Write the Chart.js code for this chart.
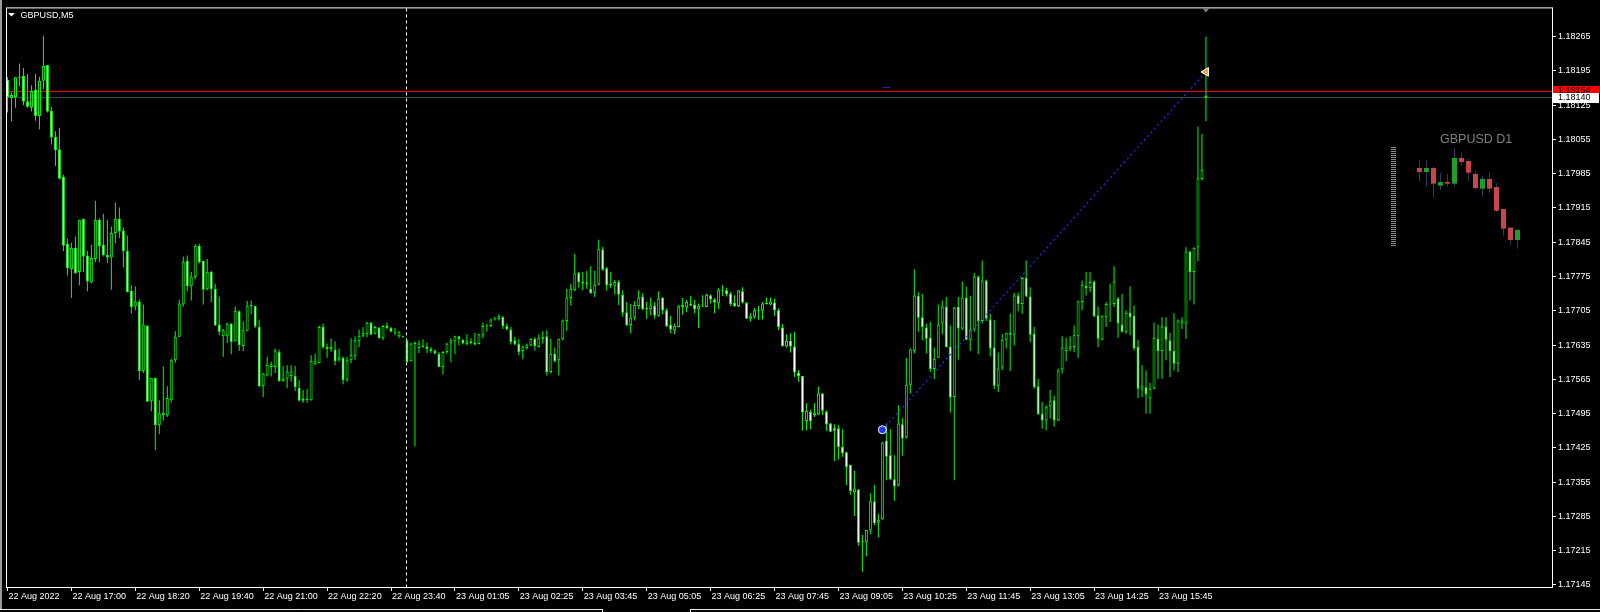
<!DOCTYPE html>
<html><head><meta charset="utf-8">
<script src="https://cdn.jsdelivr.net/npm/chart.js"></script>
<style>
html,body{margin:0;padding:0;background:#000;overflow:hidden;}
#wrap{position:relative;width:1600px;height:612px;}
#main{position:absolute;left:0;top:0;}
#d1{position:absolute;left:1385px;top:110px;}
</style></head><body>
<div id="wrap"><canvas id="main" width="1600" height="612"></canvas><canvas id="d1" width="140" height="150"></canvas></div>
<script>
// ---- GBPUSD M5 bars (index 0 = 22 Aug 15:40) ----
const open = [
1.18177,1.18139,1.18141,1.18181,1.18185,1.18133,1.18120,1.18156,1.18103,1.18175,
1.18207,1.18113,1.18060,1.18035,1.17979,1.17842,1.17790,1.17834,1.17784,1.17893,
1.17818,1.17763,1.17811,1.17891,1.17840,1.17819,1.17814,1.17864,1.17893,1.17869,
1.17827,1.17746,1.17714,1.17724,1.17582,1.17675,1.17520,1.17568,1.17471,1.17491,
1.17491,1.17522,1.17604,1.17652,1.17718,1.17807,1.17755,1.17774,1.17838,1.17807,
1.17749,1.17785,1.17750,1.17677,1.17653,1.17653,1.17679,1.17643,1.17704,1.17633,
1.17664,1.17716,1.17715,1.17672,1.17551,1.17573,1.17590,1.17590,1.17621,1.17561,
1.17566,1.17572,1.17572,1.17548,1.17526,1.17524,1.17522,1.17596,1.17598,1.17672,
1.17631,1.17626,1.17626,1.17604,1.17609,1.17563,1.17604,1.17613,1.17643,1.17653,
1.17658,1.17681,1.17658,1.17670,1.17649,1.17675,1.17670,1.17660,1.17653,1.17652,
1.17645,1.17602,1.17638,1.17629,1.17632,1.17632,1.17627,1.17624,1.17617,1.17590,
1.17621,1.17638,1.17643,1.17653,1.17646,1.17637,1.17639,1.17640,1.17637,1.17655,
1.17674,1.17674,1.17687,1.17688,1.17693,1.17674,1.17667,1.17645,1.17637,1.17623,
1.17629,1.17634,1.17648,1.17631,1.17647,1.17653,1.17580,1.17617,1.17604,1.17647,
1.17684,1.17731,1.17747,1.17783,1.17765,1.17763,1.17750,1.17741,1.17758,1.17830,
1.17792,1.17756,1.17756,1.17764,1.17738,1.17702,1.17676,1.17691,1.17715,1.17734,
1.17711,1.17708,1.17716,1.17695,1.17732,1.17706,1.17676,1.17665,1.17672,1.17712,
1.17712,1.17720,1.17718,1.17708,1.17715,1.17713,1.17736,1.17728,1.17720,1.17747,
1.17747,1.17740,1.17721,1.17715,1.17745,1.17721,1.17689,1.17693,1.17705,1.17705,
1.17720,1.17718,1.17722,1.17706,1.17671,1.17632,1.17644,1.17632,1.17579,1.17572,
1.17480,1.17499,1.17492,1.17493,1.17536,1.17499,1.17475,1.17465,1.17465,1.17427,
1.17416,1.17390,1.17335,1.17340,1.17233,1.17233,1.17256,1.17316,1.17272,1.17279,
1.17440,1.17410,1.17361,1.17348,1.17473,1.17446,1.17554,1.17623,1.17735,1.17692,
1.17671,1.17650,1.17586,1.17609,1.17679,1.17714,1.17632,1.17529,1.17713,1.17669,
1.17732,1.17646,1.17667,1.17775,1.17684,1.17767,1.17687,1.17630,1.17552,1.17589,
1.17646,1.17656,1.17656,1.17736,1.17719,1.17772,1.17734,1.17658,1.17551,1.17495,
1.17481,1.17511,1.17522,1.17481,1.17585,1.17623,1.17626,1.17631,1.17653,1.17723,
1.17756,1.17751,1.17765,1.17696,1.17646,1.17692,1.17719,1.17719,1.17730,1.17677,
1.17662,1.17701,1.17695,1.17631,1.17544,1.17549,1.17526,1.17546,1.17648,1.17623,
1.17673,1.17645,1.17623,1.17597,1.17679,1.17679,1.17826,1.17784,1.17835,1.17974,
1.18145];
const high = [
1.18182,1.18151,1.18182,1.18210,1.18201,1.18188,1.18166,1.18189,1.18183,1.18267,
1.18207,1.18122,1.18072,1.18079,1.17983,1.17852,1.17844,1.17857,1.17891,1.17893,
1.17827,1.17840,1.17930,1.17894,1.17903,1.17891,1.17877,1.17926,1.17916,1.17875,
1.17859,1.17757,1.17755,1.17728,1.17718,1.17675,1.17568,1.17568,1.17522,1.17591,
1.17551,1.17607,1.17663,1.17728,1.17816,1.17818,1.17784,1.17841,1.17842,1.17807,
1.17811,1.17787,1.17760,1.17734,1.17668,1.17681,1.17679,1.17714,1.17706,1.17683,
1.17725,1.17726,1.17715,1.17687,1.17578,1.17611,1.17601,1.17628,1.17626,1.17592,
1.17594,1.17594,1.17592,1.17563,1.17543,1.17545,1.17614,1.17617,1.17675,1.17679,
1.17638,1.17649,1.17643,1.17628,1.17611,1.17611,1.17649,1.17653,1.17667,1.17672,
1.17682,1.17682,1.17675,1.17672,1.17676,1.17681,1.17672,1.17670,1.17664,1.17654,
1.17646,1.17639,1.17643,1.17645,1.17647,1.17640,1.17631,1.17626,1.17621,1.17623,
1.17639,1.17649,1.17654,1.17654,1.17647,1.17657,1.17649,1.17660,1.17658,1.17681,
1.17678,1.17689,1.17693,1.17698,1.17694,1.17679,1.17672,1.17652,1.17647,1.17634,
1.17638,1.17649,1.17651,1.17657,1.17663,1.17665,1.17648,1.17630,1.17648,1.17687,
1.17750,1.17760,1.17821,1.17785,1.17784,1.17787,1.17796,1.17787,1.17850,1.17836,
1.17795,1.17785,1.17768,1.17768,1.17747,1.17723,1.17719,1.17725,1.17747,1.17741,
1.17723,1.17732,1.17723,1.17745,1.17732,1.17710,1.17695,1.17679,1.17717,1.17731,
1.17727,1.17735,1.17727,1.17720,1.17737,1.17740,1.17739,1.17731,1.17751,1.17757,
1.17752,1.17744,1.17737,1.17747,1.17753,1.17723,1.17700,1.17711,1.17715,1.17723,
1.17732,1.17732,1.17730,1.17710,1.17678,1.17657,1.17659,1.17662,1.17584,1.17572,
1.17516,1.17503,1.17516,1.17550,1.17537,1.17502,1.17476,1.17473,1.17471,1.17463,
1.17417,1.17391,1.17378,1.17341,1.17247,1.17257,1.17332,1.17349,1.17290,1.17437,
1.17475,1.17463,1.17410,1.17512,1.17486,1.17609,1.17628,1.17790,1.17743,1.17740,
1.17679,1.17682,1.17630,1.17718,1.17726,1.17733,1.17675,1.17713,1.17733,1.17765,
1.17754,1.17735,1.17782,1.17777,1.17808,1.17769,1.17699,1.17686,1.17620,1.17657,
1.17660,1.17699,1.17742,1.17742,1.17774,1.17808,1.17753,1.17672,1.17566,1.17519,
1.17512,1.17543,1.17532,1.17587,1.17653,1.17650,1.17653,1.17675,1.17726,1.17767,
1.17784,1.17784,1.17767,1.17714,1.17696,1.17723,1.17760,1.17796,1.17733,1.17740,
1.17706,1.17755,1.17716,1.17646,1.17594,1.17583,1.17558,1.17681,1.17677,1.17692,
1.17692,1.17660,1.17700,1.17687,1.17692,1.17835,1.17827,1.17835,1.18081,1.18066,
1.18265];
const low = [
1.18110,1.18092,1.18120,1.18163,1.18125,1.18120,1.18112,1.18093,1.18076,1.18158,
1.18110,1.18045,1.18001,1.17973,1.17827,1.17777,1.17731,1.17780,1.17757,1.17784,
1.17745,1.17761,1.17804,1.17804,1.17816,1.17802,1.17748,1.17843,1.17853,1.17794,
1.17743,1.17700,1.17706,1.17563,1.17578,1.17519,1.17500,1.17420,1.17453,1.17481,
1.17488,1.17517,1.17599,1.17651,1.17714,1.17745,1.17726,1.17769,1.17801,1.17718,
1.17747,1.17723,1.17674,1.17655,1.17611,1.17639,1.17616,1.17643,1.17623,1.17623,
1.17663,1.17698,1.17670,1.17549,1.17529,1.17571,1.17571,1.17578,1.17560,1.17560,
1.17547,1.17560,1.17541,1.17521,1.17517,1.17517,1.17521,1.17594,1.17598,1.17628,
1.17609,1.17621,1.17594,1.17601,1.17555,1.17560,1.17598,1.17605,1.17631,1.17651,
1.17651,1.17655,1.17657,1.17648,1.17645,1.17667,1.17661,1.17655,1.17649,1.17650,
1.17598,1.17602,1.17428,1.17619,1.17630,1.17619,1.17619,1.17616,1.17590,1.17575,
1.17617,1.17600,1.17616,1.17634,1.17636,1.17634,1.17636,1.17634,1.17636,1.17649,
1.17662,1.17672,1.17685,1.17685,1.17668,1.17665,1.17636,1.17634,1.17614,1.17606,
1.17626,1.17633,1.17624,1.17630,1.17638,1.17573,1.17577,1.17600,1.17573,1.17645,
1.17664,1.17716,1.17745,1.17752,1.17747,1.17750,1.17740,1.17733,1.17757,1.17787,
1.17746,1.17751,1.17739,1.17717,1.17693,1.17674,1.17659,1.17685,1.17708,1.17706,
1.17689,1.17696,1.17689,1.17693,1.17698,1.17672,1.17659,1.17657,1.17671,1.17697,
1.17702,1.17715,1.17700,1.17670,1.17713,1.17712,1.17720,1.17700,1.17708,1.17735,
1.17734,1.17715,1.17713,1.17713,1.17720,1.17688,1.17683,1.17689,1.17686,1.17687,
1.17718,1.17716,1.17695,1.17666,1.17632,1.17630,1.17620,1.17570,1.17560,1.17460,
1.17461,1.17463,1.17488,1.17492,1.17492,1.17460,1.17457,1.17398,1.17401,1.17407,
1.17349,1.17329,1.17286,1.17225,1.17172,1.17203,1.17249,1.17267,1.17242,1.17278,
1.17359,1.17359,1.17317,1.17346,1.17409,1.17444,1.17536,1.17618,1.17662,1.17645,
1.17618,1.17580,1.17565,1.17609,1.17657,1.17630,1.17497,1.17359,1.17605,1.17665,
1.17645,1.17623,1.17662,1.17616,1.17679,1.17684,1.17612,1.17545,1.17539,1.17584,
1.17628,1.17582,1.17634,1.17704,1.17699,1.17733,1.17641,1.17546,1.17492,1.17464,
1.17461,1.17485,1.17468,1.17480,1.17577,1.17602,1.17623,1.17621,1.17609,1.17706,
1.17736,1.17743,1.17692,1.17631,1.17645,1.17672,1.17682,1.17713,1.17650,1.17660,
1.17658,1.17655,1.17624,1.17527,1.17529,1.17495,1.17495,1.17545,1.17566,1.17566,
1.17604,1.17570,1.17583,1.17580,1.17668,1.17648,1.17726,1.17718,1.17806,1.17971,
1.18092];
const close = [
1.18141,1.18146,1.18182,1.18183,1.18132,1.18122,1.18154,1.18103,1.18175,1.18205,
1.18112,1.18059,1.18033,1.17975,1.17838,1.17792,1.17834,1.17782,1.17891,1.17816,
1.17765,1.17813,1.17891,1.17837,1.17819,1.17814,1.17864,1.17893,1.17867,1.17827,
1.17743,1.17712,1.17724,1.17582,1.17677,1.17519,1.17568,1.17471,1.17495,1.17496,
1.17527,1.17604,1.17652,1.17720,1.17805,1.17755,1.17775,1.17838,1.17804,1.17748,
1.17785,1.17749,1.17675,1.17662,1.17665,1.17679,1.17641,1.17705,1.17635,1.17665,
1.17716,1.17715,1.17673,1.17551,1.17577,1.17595,1.17596,1.17624,1.17561,1.17566,
1.17581,1.17581,1.17549,1.17521,1.17521,1.17523,1.17603,1.17603,1.17672,1.17630,
1.17627,1.17631,1.17602,1.17610,1.17563,1.17604,1.17615,1.17645,1.17654,1.17660,
1.17681,1.17656,1.17672,1.17649,1.17674,1.17670,1.17662,1.17659,1.17661,1.17651,
1.17600,1.17638,1.17637,1.17638,1.17631,1.17627,1.17623,1.17617,1.17590,1.17621,
1.17638,1.17645,1.17653,1.17647,1.17638,1.17643,1.17643,1.17636,1.17657,1.17674,
1.17673,1.17687,1.17689,1.17695,1.17674,1.17667,1.17641,1.17637,1.17621,1.17632,
1.17636,1.17648,1.17633,1.17650,1.17652,1.17580,1.17617,1.17602,1.17648,1.17685,
1.17732,1.17750,1.17781,1.17764,1.17761,1.17759,1.17741,1.17758,1.17832,1.17789,
1.17757,1.17760,1.17764,1.17738,1.17701,1.17676,1.17691,1.17717,1.17732,1.17708,
1.17708,1.17716,1.17695,1.17730,1.17706,1.17674,1.17667,1.17674,1.17714,1.17717,
1.17723,1.17716,1.17708,1.17715,1.17714,1.17738,1.17728,1.17722,1.17747,1.17746,
1.17739,1.17719,1.17715,1.17747,1.17722,1.17689,1.17694,1.17706,1.17704,1.17720,
1.17719,1.17724,1.17706,1.17672,1.17633,1.17644,1.17632,1.17579,1.17572,1.17497,
1.17501,1.17480,1.17497,1.17536,1.17501,1.17473,1.17458,1.17460,1.17427,1.17414,
1.17386,1.17337,1.17342,1.17231,1.17232,1.17257,1.17316,1.17271,1.17278,1.17436,
1.17407,1.17361,1.17346,1.17475,1.17444,1.17554,1.17626,1.17736,1.17691,1.17672,
1.17648,1.17586,1.17607,1.17677,1.17714,1.17631,1.17528,1.17711,1.17669,1.17732,
1.17646,1.17667,1.17775,1.17684,1.17767,1.17689,1.17628,1.17552,1.17587,1.17646,
1.17660,1.17660,1.17736,1.17719,1.17772,1.17734,1.17656,1.17549,1.17494,1.17481,
1.17508,1.17520,1.17481,1.17583,1.17630,1.17630,1.17632,1.17655,1.17724,1.17758,
1.17751,1.17764,1.17694,1.17648,1.17694,1.17719,1.17718,1.17765,1.17679,1.17662,
1.17701,1.17692,1.17628,1.17546,1.17551,1.17534,1.17546,1.17650,1.17623,1.17673,
1.17646,1.17623,1.17597,1.17685,1.17685,1.17826,1.17784,1.17834,1.17976,1.17993,
1.18140];

const xTickBars = [0,16,32,48,64,80,96,112,128,144,160,176,192,208,224,240,256,272,288];
const xTickLabels = ['22 Aug 2022','22 Aug 17:00','22 Aug 18:20','22 Aug 19:40','22 Aug 21:00','22 Aug 22:20',
  '22 Aug 23:40','23 Aug 01:05','23 Aug 02:25','23 Aug 03:45','23 Aug 05:05','23 Aug 06:25','23 Aug 07:45',
  '23 Aug 09:05','23 Aug 10:25','23 Aug 11:45','23 Aug 13:05','23 Aug 14:25','23 Aug 15:45'];
const yTicks = [1.17145,1.17215,1.17285,1.17355,1.17425,1.17495,1.17565,1.17635,1.17705,1.17775,
  1.17845,1.17915,1.17985,1.18055,1.18125,1.18195,1.18265];
const symbolTitle = 'GBPUSD,M5';
const askPrice = 1.18154;
const bidPrice = 1.18140;
const daySeparatorBar = 100;
const orderBars = [219, 300];
const orderPrices = [1.17462, 1.18193];
const orderLevelPrice = 1.18162;
const shiftBar = 300;

// ---- GBPUSD D1 mini chart ----
const d1Title = 'GBPUSD D1';
const d1Open  = [1.21116,1.20924,1.21116,1.20268,1.20444,1.20364,1.21596,1.21452,1.20828,1.20124,1.20588,1.20204,1.19148,1.18252,1.17660];
const d1High  = [1.21500,1.21500,1.21180,1.20892,1.20828,1.22076,1.21852,1.21548,1.20972,1.20732,1.20924,1.20396,1.19148,1.18284,1.18204];
const d1Low   = [1.20492,1.20220,1.19692,1.20060,1.20220,1.20220,1.21212,1.20492,1.20060,1.19740,1.19932,1.19020,1.17868,1.17420,1.17244];
const d1Close = [1.20924,1.21116,1.20364,1.20444,1.20364,1.21596,1.21404,1.20892,1.20156,1.20588,1.20124,1.19068,1.18204,1.17660,1.18140];

const FONT = "'Liberation Sans', Arial, sans-serif";

const mt4Decor = {
  id: 'mt4Decor',
  beforeDraw(chart) {
    const c = chart.ctx;
    c.save(); c.fillStyle = '#000'; c.fillRect(0, 0, chart.width, chart.height); c.restore();
  },
  beforeDatasetsDraw(chart) {
    const {ctx, chartArea: a, scales: {x, y}} = chart;
    ctx.save();
    ctx.lineWidth = 1;
    const sx = Math.floor(x.getPixelForValue(daySeparatorBar)) + 0.5;
    ctx.strokeStyle = '#ffffff';
    ctx.setLineDash([3, 3]);
    ctx.beginPath(); ctx.moveTo(sx, a.top + 1); ctx.lineTo(sx, a.bottom); ctx.stroke();
    ctx.setLineDash([]);
    const ya = Math.floor(y.getPixelForValue(askPrice)) + 0.5;
    const yb = Math.floor(y.getPixelForValue(bidPrice)) + 0.5;
    ctx.strokeStyle = '#ff0000';
    ctx.beginPath(); ctx.moveTo(a.left, ya); ctx.lineTo(a.right, ya); ctx.stroke();
    ctx.strokeStyle = '#2f4f4f';
    ctx.beginPath(); ctx.moveTo(a.left, yb); ctx.lineTo(a.right, yb); ctx.stroke();
    // small order level dash
    const yl = Math.floor(y.getPixelForValue(orderLevelPrice)) + 0.5;
    const xl = x.getPixelForValue(orderBars[0]);
    ctx.strokeStyle = '#2020c0';
    ctx.beginPath(); ctx.moveTo(xl, yl); ctx.lineTo(xl + 8, yl); ctx.stroke();
    ctx.restore();
  },
  afterDraw(chart) {
    const {ctx, chartArea: a, scales: {x, y}} = chart;
    ctx.save();
    // frame
    ctx.strokeStyle = '#ffffff'; ctx.lineWidth = 1;
    ctx.strokeRect(a.left + 0.5, a.top + 0.5, a.right - a.left, a.bottom - a.top - 1);
    // left window edge
    ctx.fillStyle = '#9a9a9a'; ctx.fillRect(0, 0, 2, 609);
    // bottom window line
    ctx.strokeStyle = '#e8e8e8';
    ctx.beginPath(); ctx.moveTo(0, 609.5); ctx.lineTo(603, 609.5); ctx.moveTo(690, 609.5); ctx.lineTo(1600, 609.5); ctx.stroke();
    ctx.beginPath(); ctx.moveTo(602.5, 609); ctx.lineTo(602.5, 612); ctx.moveTo(690.5, 609); ctx.lineTo(690.5, 612); ctx.stroke();
    // title
    ctx.fillStyle = '#ffffff';
    ctx.beginPath(); ctx.moveTo(8, 13); ctx.lineTo(15, 13); ctx.lineTo(11.5, 16.5); ctx.closePath(); ctx.fill();
    ctx.font = '9px ' + FONT; ctx.textBaseline = 'alphabetic'; ctx.textAlign = 'left';
    ctx.fillText(symbolTitle, 20.5, 18);
    // chart shift marker
    const sxm = x.getPixelForValue(shiftBar);
    ctx.fillStyle = '#7a7a7a';
    ctx.beginPath(); ctx.moveTo(sxm - 3.5, a.top + 1); ctx.lineTo(sxm + 3.5, a.top + 1); ctx.lineTo(sxm, a.top + 5); ctx.closePath(); ctx.fill();
    // price labels
    const ya = y.getPixelForValue(askPrice), yb = y.getPixelForValue(bidPrice);
    ctx.textBaseline = 'middle';
    ctx.fillStyle = '#ff0000'; ctx.fillRect(a.right + 1, Math.round(ya) - 5, 46, 10);
    ctx.fillStyle = '#000000'; ctx.fillText(askPrice.toFixed(5), a.right + 6, Math.round(ya));
    ctx.fillStyle = '#ffffff'; ctx.fillRect(a.right + 1, Math.round(yb) - 5, 46, 10);
    ctx.fillStyle = '#000000'; ctx.fillText(bidPrice.toFixed(5), a.right + 6, Math.round(yb));
    ctx.restore();
  }
};

const idx = open.map((_, i) => i);
const bodyData = idx.map(i => ({x: i, y: [Math.min(open[i], close[i]), Math.max(open[i], close[i])]}));
const wickData = idx.map(i => ({x: i, y: [low[i], high[i]]}));

new Chart(document.getElementById('main'), {
  type: 'bar',
  data: {
    datasets: [
      {
        type: 'line', label: 'order',
        data: orderBars.map((b, k) => ({x: b, y: orderPrices[k]})),
        borderColor: '#2a2aff', borderWidth: 1.2, borderDash: [2, 3], tension: 0,
        pointStyle: ['circle', 'triangle'], pointRotation: [0, -90], pointRadius: [4, 5],
        pointBackgroundColor: ['#2233ff', '#e8a33a'], pointBorderColor: '#ffffff', pointBorderWidth: 1,
        order: 0
      },
      {
        label: 'body', data: bodyData,
        backgroundColor: c => (close[c.dataIndex] >= open[c.dataIndex] ? '#000000' : '#ffffff'),
        borderColor: '#00ff00', borderWidth: 1, borderSkipped: false, inflateAmount: 0,
        barThickness: 3, minBarLength: 1, grouped: false, order: 1
      },
      {
        label: 'wick', data: wickData,
        backgroundColor: '#00ff00', borderWidth: 0, inflateAmount: 0,
        barThickness: 1, grouped: false, order: 2
      }
    ]
  },
  options: {
    responsive: false, animation: false, devicePixelRatio: 1,
    layout: {padding: {left: 4, top: 6, right: 0, bottom: 0}},
    plugins: {legend: {display: false}, tooltip: {enabled: false}},
    scales: {
      x: {
        type: 'linear', min: -0.375, max: 386.625, offset: false,
        afterFit: s => { s.height = 24; },
        afterBuildTicks: s => { s.ticks = xTickBars.map(v => ({value: v})); },
        border: {display: false},
        grid: {display: true, drawOnChartArea: false, drawTicks: true, tickLength: 3, color: '#ffffff', offset: false},
        ticks: {
          autoSkip: false, maxRotation: 0, minRotation: 0, align: 'start', labelOffset: 1, padding: 0,
          color: '#ffffff', font: {family: FONT, size: 9},
          callback: v => { const k = xTickBars.indexOf(v); return k >= 0 ? xTickLabels[k] : ''; }
        }
      },
      y: {
        type: 'linear', position: 'right', min: 1.171387, max: 1.183248,
        afterFit: s => { s.width = 48; },
        afterBuildTicks: s => { s.ticks = yTicks.map(v => ({value: v})); },
        border: {display: false},
        grid: {display: true, drawOnChartArea: false, drawTicks: true, tickLength: 4, color: '#ffffff'},
        ticks: {padding: 2, color: '#ffffff', font: {family: FONT, size: 9}, callback: v => Number(v).toFixed(5)}
      }
    }
  },
  plugins: [mt4Decor]
});

const insetDecor = {
  id: 'insetDecor',
  beforeDatasetsDraw(chart) {
    const ctx = chart.ctx;
    ctx.save();
    ctx.fillStyle = '#8c8c8c';
    for (let yy = 37; yy <= 136; yy += 2) ctx.fillRect(6, yy, 5, 1);
    ctx.fillStyle = '#808080';
    ctx.font = '12.5px ' + FONT; ctx.textBaseline = 'alphabetic';
    ctx.fillText(d1Title, 55, 33);
    ctx.restore();
  }
};

new Chart(document.getElementById('d1'), {
  type: 'bar',
  data: {
    datasets: [
      {
        data: d1Open.map((o, i) => ({x: i, y: [Math.min(o, d1Close[i]), Math.max(o, d1Close[i])]})),
        backgroundColor: c => (d1Close[c.dataIndex] >= d1Open[c.dataIndex] ? '#1f9e2a' : '#c8464b'),
        borderWidth: 0, inflateAmount: 0, barThickness: 5, minBarLength: 1, grouped: false, order: 0
      },
      {
        data: d1Open.map((o, i) => ({x: i, y: [d1Low[i], d1High[i]]})),
        backgroundColor: '#233f5e', borderWidth: 0, inflateAmount: 0, barThickness: 1, grouped: false, order: 1
      }
    ]
  },
  options: {
    responsive: false, animation: false, devicePixelRatio: 1,
    layout: {padding: 0},
    plugins: {legend: {display: false}, tooltip: {enabled: false}},
    scales: {
      x: {type: 'linear', display: false, min: -4.9286, max: 15.0714, offset: false},
      y: {display: false, min: 1.1670, max: 1.2390}
    }
  },
  plugins: [insetDecor]
});
</script></body></html>
